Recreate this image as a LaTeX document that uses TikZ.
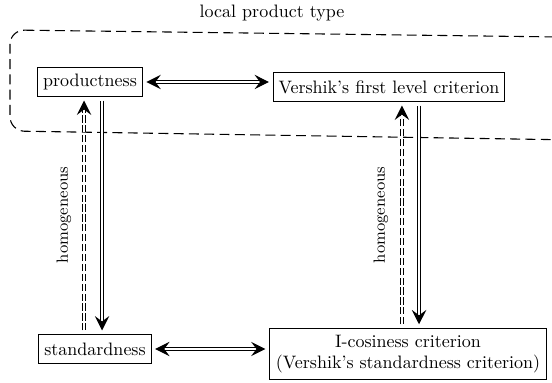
\documentclass[tikz,border=0pt]{standalone}
\usetikzlibrary{arrows.meta,calc}
\tikzset{
  tip/.tip={Stealth[length=8pt,width=8pt,inset=3pt]},
  box/.style={draw, semithick, inner sep=3pt, minimum height=16pt},
  imp/.style={double, double distance=1.4pt, semithick, shorten >=2pt, shorten <=2pt, -tip},
  biimp/.style={imp, tip-tip},
  weakimp/.style={imp, double distance=1.1pt, line width=0.65pt, dash pattern=on 4pt off 1.5pt},
  lbl/.style={font=\small, rotate=90},
}
\begin{document}
\begin{tikzpicture}[x=0.5556pt, y=-0.5556pt]
\useasboundingbox (0,0) rectangle (552,383);

% the dashed region of the local product type
\draw[dash pattern=on 5.5pt off 3pt, semithick, rounded corners=8pt]
  (10,30) -- (640,38) -- (640,141) -- (10,131) -- cycle;
\node (lpt) at (272,13) {local product type};

% properties
\node[box] (prod) at (90,82) {productness};
\node[box] (vfl) at (389,87) {Vershik's first level criterion};
\node[box] (std) at (95,349) {standardness};
\node[box, align=center, inner sep=3.5pt] (icos) at (408,354)
  {I-cosiness criterion\\(Vershik's standardness criterion)};

% equivalences
\draw[biimp] (prod) -- (prod -| vfl.west);
\draw[biimp] (std) -- (std -| icos.west);

% implications
\draw[imp] ([xshift=6.7pt]prod.south) -- ([xshift=6.7pt]prod.south |- std.north);
\draw[weakimp] ([xshift=-3.3pt]prod.south |- std.north) -- ([xshift=-3.3pt]prod.south);
\draw[imp] ([xshift=16.7pt]vfl.south) -- ([xshift=16.7pt]vfl.south |- icos.north);
\draw[weakimp] ([xshift=7.2pt]vfl.south |- icos.north) -- ([xshift=7.2pt]vfl.south);

\node[lbl] (h1) at (64,215) {homogeneous};
\node[lbl] (h2) at (381,215) {homogeneous};
\end{tikzpicture}
\end{document}
